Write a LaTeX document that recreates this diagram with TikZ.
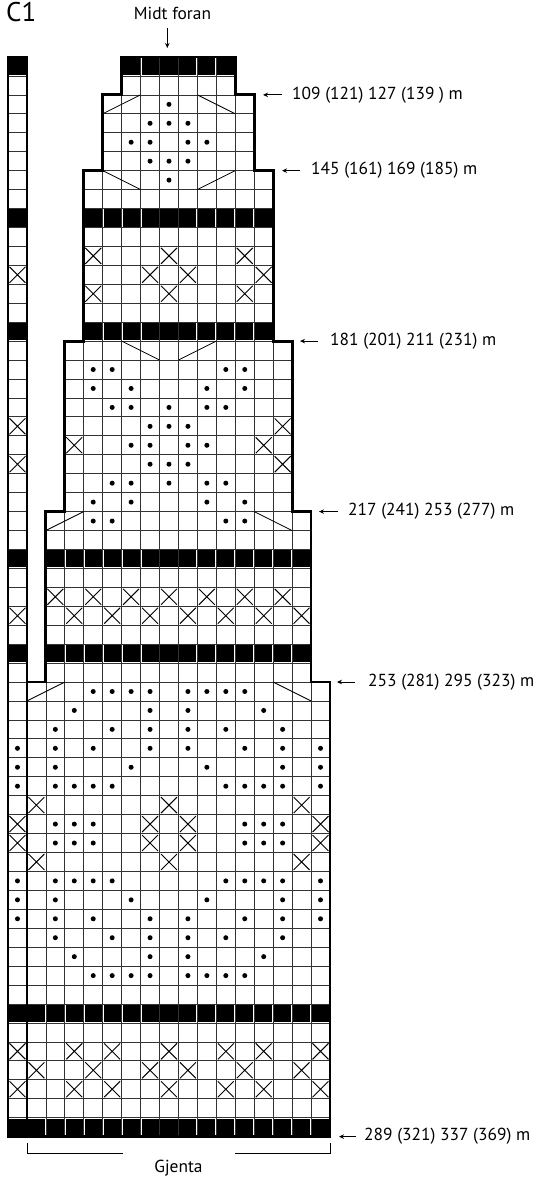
\documentclass[tikz,border=0pt]{standalone}
\usepackage{fontspec}
\setmainfont{PT Sans}
\usetikzlibrary{arrows.meta}
\begin{document}
\begin{tikzpicture}[x=1pt,y=-1pt,
  gridl/.style={draw=black!80,line width=0.75pt},
  thickl/.style={line width=2.8pt,line join=miter},
  thinl/.style={line width=0.8pt},
  crossl/.style={line width=0.95pt},
  lbl/.style={font=\fontsize{17.4}{20}\selectfont,inner sep=0pt,anchor=west},
  arr/.style={line width=0.8pt,-{Stealth[length=5pt,width=4.5pt]}}]
\fill[white] (0,0) rectangle (537,1180);
\useasboundingbox (0,0) rectangle (537,1180);
\begin{scope}[shift={(8pt,-57pt)},x=18.94pt,y=-18.94pt]
  % grid cells
  \foreach \ra/\rb/\ca/\cb in {0/56/0/0, 0/1/6/11, 2/5/5/12, 6/14/4/13, 15/23/3/14, 24/32/2/15, 33/56/1/16}{
    \foreach \r in {\ra,...,\rb}{
      \foreach \c in {\ca,...,\cb}{
        \draw[gridl] (\c,\r) rectangle ++(1,1);
      }}}
  % black cells
  \foreach \r/\ca/\cb in {0/6/11, 8/4/13, 14/4/13, 26/2/15, 31/2/15, 50/0/16, 56/0/16}{
    \foreach \c in {\ca,...,\cb}{
      \fill ({\c+0.05},{\r+0.05}) rectangle ({\c+0.95},{\r+0.95});
    }}
  \foreach \r in {0,8,14,26,31}{
    \fill (0.05,{\r+0.05}) rectangle (0.95,{\r+0.95});
  }
  % dots
  \foreach \r/\cs in {2/{8}, 3/{7,8,9}, 4/{6,7,9,10}, 5/{7,8,9}, 6/{8},
    16/{4,5,11,12}, 17/{4,6,10,12}, 18/{5,6,8,10,11}, 19/{7,8,9}, 20/{6,7,9,10},
    21/{7,8,9}, 22/{5,6,8,10,11}, 23/{4,6,10,12}, 24/{4,5,11,12},
    33/{4,5,6,7,9,10,11,12}, 34/{3,7,9,13}, 35/{2,5,7,9,11,14},
    36/{0,2,4,7,9,12,14,16}, 37/{0,2,6,10,14,16}, 38/{0,2,3,4,5,11,12,13,14,16},
    40/{2,3,4,12,13,14}, 41/{2,3,4,12,13,14},
    43/{0,2,3,4,5,11,12,13,14,16}, 44/{0,2,6,10,14,16}, 45/{0,2,4,7,9,12,14,16},
    46/{2,5,7,9,11,14}, 47/{3,7,9,13}, 48/{4,5,6,7,9,10,11,12}}{
    \foreach \c in \cs{
      \fill ({\c+0.5},{\r+0.5}) circle[radius=2.5pt];
    }}
  % crosses
  \foreach \r/\cs in {10/{4,8,12}, 11/{0,7,9,13}, 12/{4,8,12},
    19/{0,14}, 20/{3,13}, 21/{0,14},
    28/{2,4,6,8,10,12,14}, 29/{0,3,5,7,9,11,13,15},
    39/{1,8,15}, 40/{0,7,9,16}, 41/{0,7,9,16}, 42/{1,8,15},
    52/{0,3,5,8,11,13,16}, 53/{1,4,7,9,12,15}, 54/{0,3,5,8,11,13,16}}{
    \foreach \c in \cs{
      \draw[crossl] ({\c+0.08},{\r+0.08}) -- ({\c+0.92},{\r+0.92})
                    ({\c+0.08},{\r+0.92}) -- ({\c+0.92},{\r+0.08});
    }}
  % decrease diagonals
  \draw[thinl] (5,3) -- (7,2) (10,2) -- (12,3);
  \draw[thinl] (5,6) -- (7,7) (10,7) -- (12,6);
  \draw[thinl] (6,15) -- (8,16) (9,16) -- (11,15);
  \draw[thinl] (2,25) -- (4,24) (13,24) -- (15,25);
  \draw[thinl] (1,34) -- (3,33) (14,33) -- (16,34);
  % outline
  \draw[thickl] (0,0) -- (1,0) -- (1,33) -- (2,33) -- (2,24) -- (3,24) -- (3,15)
    -- (4,15) -- (4,6) -- (5,6) -- (5,2) -- (6,2) -- (6,0) -- (12,0) -- (12,2)
    -- (13,2) -- (13,6) -- (14,6) -- (14,15) -- (15,15) -- (15,24) -- (16,24)
    -- (16,33) -- (17,33) -- (17,57) -- (0,57) -- cycle;
  \draw[thickl] (1,33) -- (1,57);
\end{scope}
% title
\node[font=\fontsize{27}{30}\selectfont,inner sep=0pt,anchor=base west] (title) at (6,22) {C1};
\node[font=\fontsize{17.4}{20}\selectfont,inner sep=0pt,anchor=base] (midt) at (172.5,20) {Midt foran};
\coordinate (ma) at (167.3,28);
\coordinate (mb) at (167.3,48);
\draw[arr] (ma) -- (mb);
% labels
\coordinate (s1) at (282,94.88); \coordinate (t1) at (263,94.88);
\draw[arr] (s1) -- (t1);
\node[lbl] (l1) at (292,94.88) {109 (121) 127 (139 ) m};
\coordinate (s2) at (300,170.64); \coordinate (t2) at (282,170.64);
\draw[arr] (s2) -- (t2);
\node[lbl] (l2) at (311,170.64) {145 (161) 169 (185) m};
\coordinate (s3) at (318,341.1); \coordinate (t3) at (300,341.1);
\draw[arr] (s3) -- (t3);
\node[lbl] (l3) at (330,341.1) {181 (201) 211 (231) m};
\coordinate (s4) at (338,511.56); \coordinate (t4) at (319,511.56);
\draw[arr] (s4) -- (t4);
\node[lbl] (l4) at (348,511.56) {217 (241) 253 (277) m};
\coordinate (s5) at (355,682); \coordinate (t5) at (337,682);
\draw[arr] (s5) -- (t5);
\node[lbl] (l5) at (368,682) {253 (281) 295 (323) m};
\coordinate (s6) at (356,1136.6); \coordinate (t6) at (339,1136.6);
\draw[arr] (s6) -- (t6);
\node[lbl] (l6) at (364,1136.6) {289 (321) 337 (369) m};
% Gjenta bracket
\node[font=\fontsize{17.4}{20}\selectfont,inner sep=0pt,anchor=base] (gj) at (178.5,1172) {Gjenta};
\coordinate (ga) at (27,1143); \coordinate (gb) at (27,1153); \coordinate (gc) at (123,1153);
\coordinate (gd) at (235,1153); \coordinate (ge) at (330,1153); \coordinate (gf) at (330,1143);
\draw[line width=0.8pt] (ga) -- (gb) -- (gc);
\draw[line width=0.8pt] (gd) -- (ge) -- (gf);
\end{tikzpicture}
\end{document}
